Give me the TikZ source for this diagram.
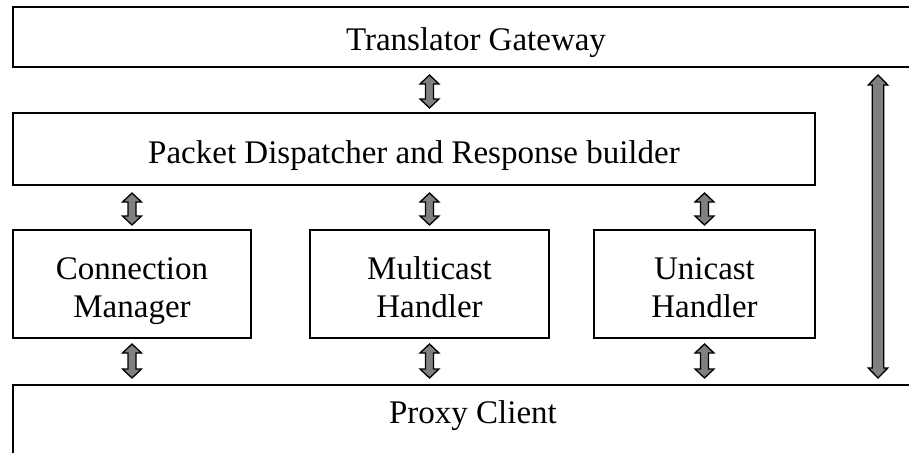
\documentclass[tikz,border=0pt]{standalone}
\usepackage{fontspec}
\setmainfont{Liberation Serif}
\usetikzlibrary{calc}
\begin{document}
\begin{tikzpicture}[x=1pt,y=-1pt,
  box/.style={draw=black,line width=2pt,fill=white,inner sep=0pt,align=center,
    anchor=north west,font=\fontsize{33}{38}\selectfont},
  onel/.style={text height=30pt,text depth=2pt},
  twol/.style={text height=68pt,text depth=2pt},
  arr/.style={draw=black,line width=1.3pt,fill=gray,line join=miter},
  dbl/.style n args={3}{to path={let \p1=(\tikztostart), \p2=(\tikztotarget) in
    (\x1,\y1) -- (\x1-#1,\y1-#3) -- (\x1-#2,\y1-#3) -- (\x1-#2,\y2+#3)
    -- (\x1-#1,\y2+#3) -- (\x1,\y2) -- (\x1+#1,\y2+#3) -- (\x1+#2,\y2+#3)
    -- (\x1+#2,\y1-#3) -- (\x1+#1,\y1-#3) -- cycle}},
  smallarr/.style={arr,dbl={9.5pt}{4pt}{9pt}},
  longarr/.style={arr,dbl={9.8pt}{5.8pt}{10pt}}
]
\useasboundingbox (0,0) rectangle (909,452);
\clip (0,0) rectangle (909,452);

\node[box,onel,minimum width=926pt,minimum height=60pt] (gw) at (12,6) {Translator Gateway};
\node[box,onel,minimum width=802pt,minimum height=72pt] (dp) at (12,112) {Packet Dispatcher and Response builder};
\node[box,twol,minimum width=238pt,minimum height=108pt] (cm) at (12,229) {Connection\\Manager};
\node[box,twol,minimum width=239pt,minimum height=108pt] (mc) at (309,229) {Multicast\\Handler};
\node[box,twol,minimum width=221pt,minimum height=108pt] (uc) at (593,229) {Unicast\\Handler};
\node[box,minimum width=920pt,minimum height=100pt,text height=23pt,text depth=47pt] (pc) at (12,384) {Proxy Client};

\coordinate (lx) at (878,0);

% gateway <-> dispatcher
\coordinate (a1) at ($(gw.south -| mc.north)+(0,7)$);
\coordinate (b1) at ($(dp.north -| mc.north)+(0,-4)$);
\draw[smallarr] (a1) to (b1);

% dispatcher <-> handlers, handlers <-> proxy client
\foreach \bx in {cm,mc,uc}{
  \coordinate (top\bx) at ($(dp.south -| \bx.north)+(0,7)$);
  \coordinate (bot\bx) at ($(\bx.north)+(0,-4)$);
  \draw[smallarr] (top\bx) to (bot\bx);
  \coordinate (low\bx) at ($(\bx.south)+(0,5)$);
  \coordinate (pcs\bx) at ($(pc.north -| \bx.south)+(0,-6)$);
  \draw[smallarr] (low\bx) to (pcs\bx);
}

% long gateway <-> proxy client
\coordinate (a4) at ($(gw.south -| lx)+(0,7)$);
\coordinate (b4) at ($(pc.north -| lx)+(0,-6)$);
\draw[longarr] (a4) to (b4);
\end{tikzpicture}
\end{document}
